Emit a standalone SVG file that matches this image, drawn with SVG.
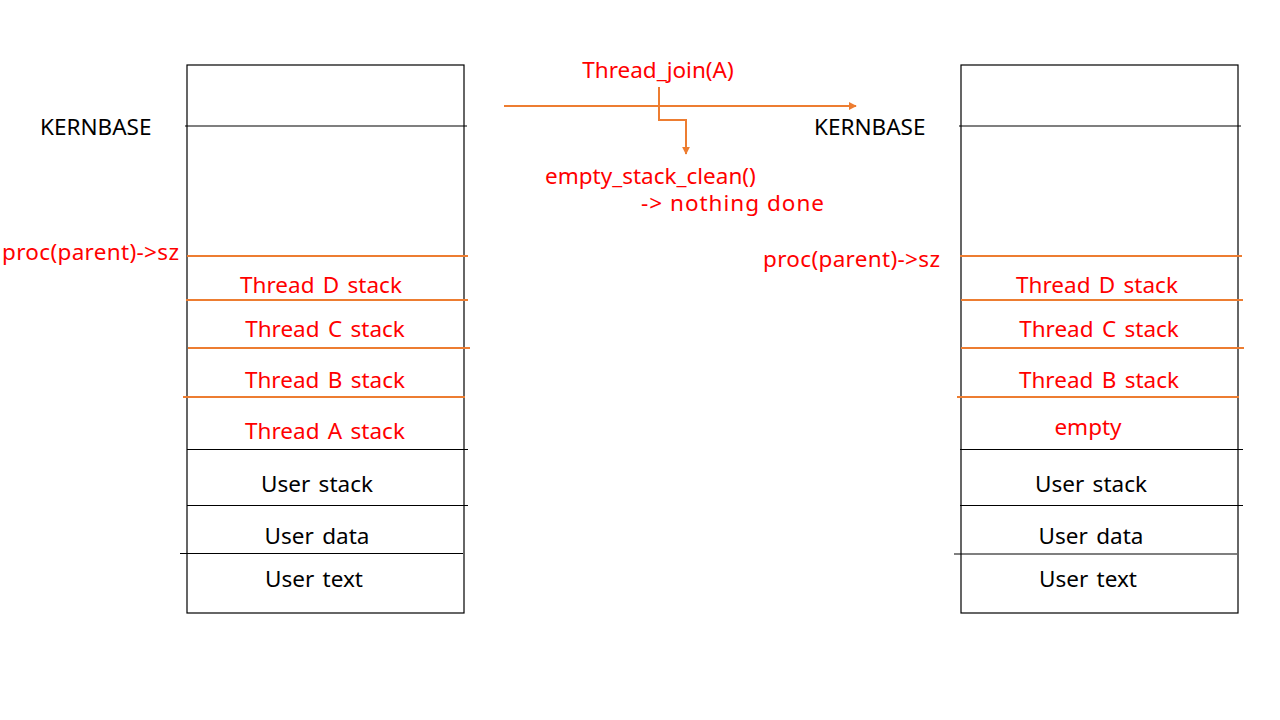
<svg xmlns="http://www.w3.org/2000/svg" width="1280" height="720" viewBox="0 0 1280 720">
<defs>
<marker id="ah" viewBox="0 0 10 10" refX="9" refY="5" markerWidth="8" markerHeight="8" orient="auto" markerUnits="userSpaceOnUse">
<path d="M0,0 L10,5 L0,10 z" fill="#ED7D31"/>
</marker>
<style>
.box{fill:#fff;stroke:#000;stroke-width:1.2}
.bl{stroke:#000;stroke-width:1.2}
.or{stroke:#ED7D31;stroke-width:2}
text{font-family:"Noto Sans","Open Sans","DejaVu Sans",sans-serif;font-size:22.5px}
.r{fill:#FF0000}
.k{fill:#000}
.c{text-anchor:middle}
.ws{word-spacing:2.5px}
.conn{fill:none;stroke:#ED7D31;stroke-width:2}
</style>
</defs>
<rect width="1280" height="720" fill="#fff"/>
<g id="left-memory">
<rect class="box" x="187" y="65" width="277" height="548"/>
<line class="bl" x1="185" y1="126" x2="467" y2="126"/>
<line class="or" x1="187" y1="256" x2="468" y2="256"/>
<line class="or" x1="186" y1="300" x2="468" y2="300"/>
<line class="or" x1="188" y1="348" x2="470" y2="348"/>
<line class="or" x1="183" y1="397" x2="465" y2="397"/>
<line class="bl" x1="187" y1="449.5" x2="468" y2="449.5"/>
<line class="bl" x1="187" y1="505.5" x2="468" y2="505.5"/>
<line class="bl" x1="180" y1="553.5" x2="463" y2="553.5"/>
<text class="k" x="40" y="135">KERNBASE</text>
<text class="r" x="2" y="260" textLength="177" lengthAdjust="spacing">proc(parent)-&gt;sz</text>
<text class="r c ws" x="321" y="293">Thread D stack</text>
<text class="r c ws" x="325" y="337">Thread C stack</text>
<text class="r c ws" x="325" y="388">Thread B stack</text>
<text class="r c ws" x="325" y="439">Thread A stack</text>
<text class="k c ws" x="317" y="492">User stack</text>
<text class="k c ws" x="317" y="544">User data</text>
<text class="k c ws" x="314" y="587">User text</text>
</g>
<g id="right-memory">
<rect class="box" x="961" y="65" width="277" height="548"/>
<line class="bl" x1="959" y1="126" x2="1241" y2="126"/>
<line class="or" x1="960" y1="256" x2="1242" y2="256"/>
<line class="or" x1="961" y1="300" x2="1243" y2="300"/>
<line class="or" x1="961" y1="348" x2="1244" y2="348"/>
<line class="or" x1="957" y1="397" x2="1239" y2="397"/>
<line class="bl" x1="960" y1="449.5" x2="1243" y2="449.5"/>
<line class="bl" x1="960" y1="505.5" x2="1243" y2="505.5"/>
<line class="bl" x1="954" y1="554" x2="1237" y2="554"/>
<text class="k" x="814" y="135">KERNBASE</text>
<text class="r" x="763" y="267" textLength="177" lengthAdjust="spacing">proc(parent)-&gt;sz</text>
<text class="r c ws" x="1097" y="293">Thread D stack</text>
<text class="r c ws" x="1099" y="337">Thread C stack</text>
<text class="r c ws" x="1099" y="388">Thread B stack</text>
<text class="r c" x="1088" y="435">empty</text>
<text class="k c ws" x="1091" y="492">User stack</text>
<text class="k c ws" x="1091" y="544">User data</text>
<text class="k c ws" x="1088" y="587">User text</text>
</g>
<g id="connectors">
<line class="conn" x1="504" y1="106" x2="856" y2="106" marker-end="url(#ah)"/>
<path class="conn" d="M659,87 V120 H686 V154" marker-end="url(#ah)"/>
</g>
<g id="labels">
<text class="r c" x="658" y="78">Thread_join(A)</text>
<text class="r" x="545" y="184">empty_stack_clean()</text>
<text class="r" x="641" y="211" textLength="183" lengthAdjust="spacing">-&gt; nothing done</text>
</g>
</svg>
